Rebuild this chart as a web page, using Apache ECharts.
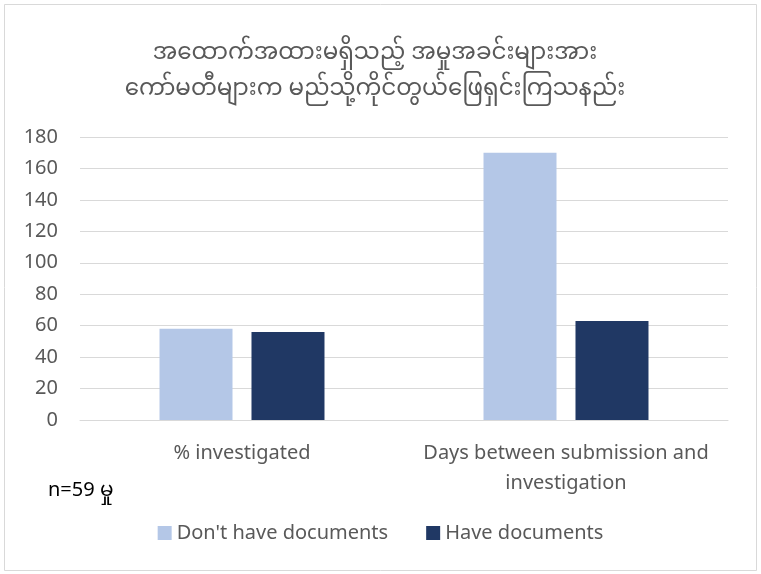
<!DOCTYPE html>
<html>
<head>
<meta charset="utf-8">
<script src="https://cdn.jsdelivr.net/npm/echarts@6/dist/echarts.min.js"></script>
<style>html,body{margin:0;padding:0;background:#fff}#c{width:761px;height:574px}</style>
</head>
<body>
<div id="c"></div>
<script>
const titleText = "အထောက်အထားမရှိသည့် အမှုအခင်းများအား\nကော်မတီများက မည်သို့ကိုင်တွယ်ဖြေရှင်းကြသနည်း";
const categories = ["% investigated", "Days between submission and\ninvestigation"];
const seriesNames = ["Don't have documents", "Have documents"];
const noDocs = [58, 170];
const withDocs = [56, 63];
const yTicks = [0, 20, 40, 60, 80, 100, 120, 140, 160, 180];
const noteText = "n=59 မှု";

const FONT = "'Noto Sans', 'Noto Sans Myanmar', 'Open Sans', 'DejaVu Sans', sans-serif";
const chart = echarts.init(document.getElementById('c'), null, {renderer: 'canvas'});
chart.setOption({
  animation: false,
  backgroundColor: '#fff',
  title: {
    text: titleText,
    left: 370,
    textAlign: 'center',
    top: 29,
    textStyle: {fontFamily: FONT, fontSize: 23, fontWeight: 'normal', color: '#595959', lineHeight: 36}
  },
  grid: {left: 80, right: 33, top: 137, bottom: 154, containLabel: false},
  legend: {
    data: seriesNames,
    bottom: 26,
    left: 'center',
    itemWidth: 14, itemHeight: 14, itemGap: 38,
    icon: 'rect',
    textStyle: {fontFamily: FONT, fontSize: 20, color: '#595959'}
  },
  xAxis: {
    type: 'category',
    data: categories,
    axisLine: {lineStyle: {color: '#d9d9d9', width: 1}},
    axisTick: {show: false},
    axisLabel: {interval: 0, fontFamily: FONT, fontSize: 20, color: '#595959', margin: 18, lineHeight: 30}
  },
  yAxis: {
    type: 'value',
    min: 0, max: 180, interval: 20,
    axisLine: {show: false},
    axisTick: {show: false},
    splitLine: {lineStyle: {color: '#d9d9d9', width: 1}},
    axisLabel: {fontFamily: FONT, fontSize: 20, color: '#595959', margin: 22,
      formatter: v => yTicks.includes(v) ? String(v) : ''}
  },
  series: [
    {name: seriesNames[0], type: 'bar', data: noDocs, barWidth: 73, barGap: '26%',
      itemStyle: {color: '#b4c7e7'}},
    {name: seriesNames[1], type: 'bar', data: withDocs, barWidth: 73,
      itemStyle: {color: '#203864'}}
  ],
  graphic: [
    {type: 'rect', shape: {x: 4.5, y: 4.5, width: 752, height: 566},
      style: {fill: 'none', stroke: '#d9d9d9', lineWidth: 1}, silent: true, z: -1},
    {type: 'text', left: 48, top: 480,
      style: {text: noteText, font: "20px " + FONT, fill: '#000'}}
  ]
});
</script>
</body>
</html>
